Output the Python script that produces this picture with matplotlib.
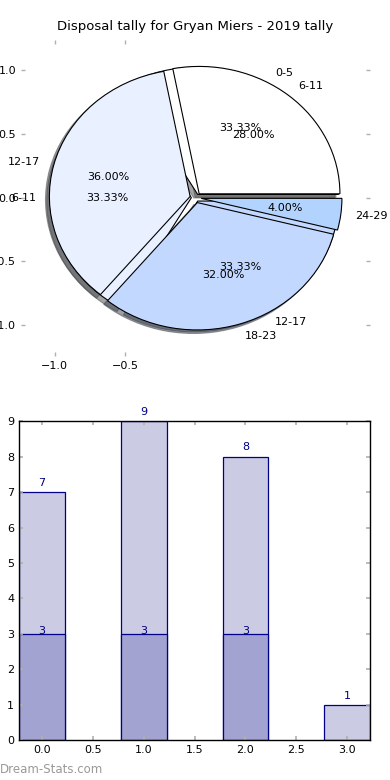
import matplotlib
matplotlib.use("Agg")
import matplotlib.pyplot as plt

# tally by age bracket (two seasons drawn on one pie, as in the source chart)
labels_a = ["0-5", "6-11", "12-17"]
values_a = [3, 3, 3]
labels_b = ["6-11", "12-17", "18-23", "24-29"]
values_b = [7, 9, 8, 1]

bar_x = [0, 1, 2, 3]
bar_back = [7, 9, 8, 1]
bar_front = [3, 3, 3]

title = "Disposal tally for Gryan Miers - 2019 tally"
pie_colors = ["#ffffff", "#e9f0ff", "#c3d8ff", "#b3d3ff"]
TICK_GRAY = "#b0b0b0"

fig = plt.figure(figsize=(3.9, 7.8), dpi=100)

# ---- pie ---------------------------------------------------------------
ax = fig.add_axes([0.054, 0.544, 0.895, 0.405])
wp = {"edgecolor": "black", "linewidth": 0.8}
ax.pie(values_a, labels=labels_a, explode=[0.03] * len(values_a),
       colors=pie_colors[:len(values_a)], autopct="%.2f%%", shadow=True,
       wedgeprops=wp, textprops={"fontsize": 8})
ax.pie(values_b, labels=labels_b, explode=[0.04] * len(values_b),
       colors=pie_colors, autopct="%.2f%%", shadow=True,
       wedgeprops=wp, textprops={"fontsize": 8})
ax.set_aspect("auto")
ax.set_xlim(-1.24, 1.24)
ax.set_ylim(-1.24, 1.24)
ax.set_xticks([-1.0, -0.5])
ax.set_yticks([-1.0, -0.5, 0.0, 0.5, 1.0])
ax.set_frame_on(False)
ax.tick_params(direction="in", color=TICK_GRAY, length=3, width=1,
               top=True, right=True, labelsize=8)
ax.set_title(title, fontsize=9.5, pad=7)

# ---- bars --------------------------------------------------------------
bx = fig.add_axes([0.049, 0.051, 0.9, 0.409])
bx.bar(bar_x, bar_back, width=0.45, color="#cbcbe3", edgecolor="#000088",
       linewidth=0.9)
bx.bar(bar_x[:len(bar_front)], bar_front, width=0.45, color="#a3a3d1",
       edgecolor="#000088", linewidth=0.9)
for x, h in zip(bar_x, bar_back):
    bx.text(x, h + 0.12, str(h), ha="center", va="bottom", fontsize=8,
            color="#000080", clip_on=False)
for x, h in zip(bar_x, bar_front):
    bx.text(x, h - 0.05, str(h), ha="center", va="bottom", fontsize=8,
            color="#000080")
bx.set_xlim(-0.225, 3.225)
bx.set_ylim(0, 9)
bx.set_xticks([0.0, 0.5, 1.0, 1.5, 2.0, 2.5, 3.0])
bx.set_yticks(range(0, 10))
bx.tick_params(direction="in", color=TICK_GRAY, length=3, width=1.2,
               top=True, right=True, labelsize=8)
for s in bx.spines.values():
    s.set_linewidth(1.0)

fig.text(0.0, 0.013, "Dream-Stats.com", fontsize=8.5, color="#999999",
         ha="left", va="center")

fig.savefig("out.png", dpi=100)
